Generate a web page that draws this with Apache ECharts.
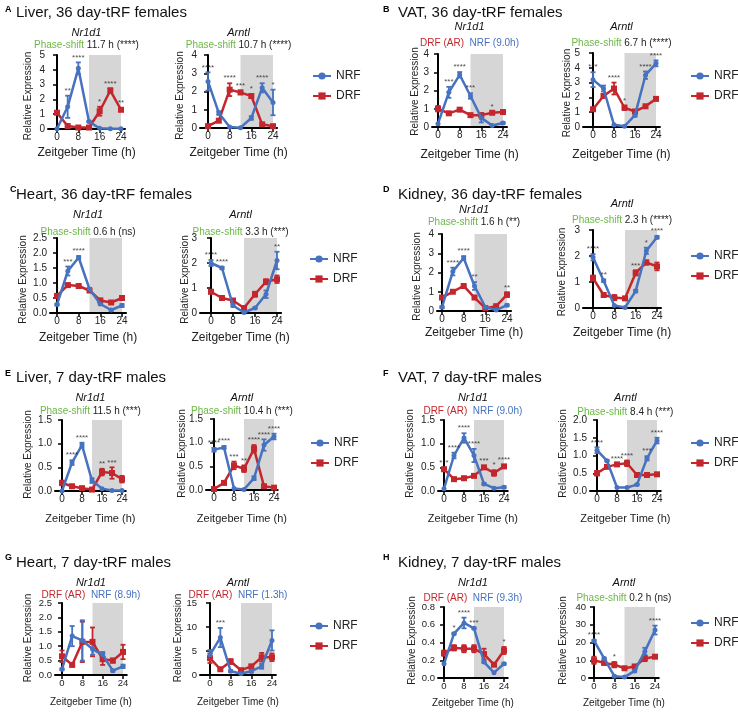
<!DOCTYPE html>
<html><head><meta charset="utf-8">
<script src="https://cdn.jsdelivr.net/npm/echarts@6/dist/echarts.min.js"></script>
<style>html,body{margin:0;padding:0;background:#fff}#c{width:738px;height:713px}</style>
</head><body><div id="c"></div>
<script>
const FONT = 'Liberation Sans, Arial, Helvetica, sans-serif';
const BLUE = '#4672bf', RED = '#c3262c', GREEN = '#6cb846', GRAY = '#d6d6d6', INK = '#1a1a1a';

const zt = [0, 4, 8, 12, 16, 20, 24];
const xTicks = [0, 8, 16, 24];
const panelLetters = ['A', 'B', 'C', 'D', 'E', 'F', 'G', 'H'];
const panelTitles = ['Liver, 36 day-tRF females', 'VAT, 36 day-tRF females', 'Heart, 36 day-tRF females', 'Kidney, 36 day-tRF females',
  'Liver, 7 day-tRF males', 'VAT, 7 day-tRF males', 'Heart, 7 day-tRF males', 'Kidney, 7 day-tRF males'];

// ---- A: Liver 36d females
const A1_NRF = [0.02, 1.5, 4.1, 0.5, 0.05, 0.02, 0.02], A1_NRF_E = [0, 0.75, 0.4, 0.05, 0, 0, 0];
const A1_DRF = [1.1, 0.2, 0.1, 0.1, 1.2, 2.6, 1.3], A1_DRF_E = [0.1, 0, 0, 0, 0.3, 0.15, 0.1];
const A1_STARS = ['*', '**', '****', '', '*', '****', '**'];
const A2_NRF = [2.55, 0.82, 0.05, 0.02, 0.55, 2.2, 1.4], A2_NRF_E = [0.5, 0.1, 0, 0, 0.1, 0.25, 0.7];
const A2_DRF = [0.1, 0.4, 2.1, 1.95, 1.75, 0.2, 0.1], A2_DRF_E = [0, 0, 0.35, 0.1, 0.1, 0, 0];
const A2_STARS = ['****', '', '****', '***', '*', '****', '*'];
// ---- B: VAT 36d females
const B1_NRF = [0.18, 1.9, 2.86, 1.7, 0.5, 0.08, 0.22], B1_NRF_E = [0, 0.3, 0.15, 0.15, 0.25, 0, 0.05];
const B1_DRF = [1.0, 0.75, 0.95, 0.65, 0.65, 0.78, 0.82], B1_DRF_E = [0.15, 0.05, 0.05, 0, 0, 0.05, 0.05];
const B1_STARS = ['*', '***', '****', '***', '', '*', ''];
const B2_NRF = [3.2, 2.6, 0.15, 0.05, 0.8, 3.5, 4.3], B2_NRF_E = [0.5, 0.2, 0, 0, 0.1, 0.25, 0.2];
const B2_DRF = [1.2, 2.1, 2.6, 1.3, 1.05, 1.4, 1.9], B2_DRF_E = [0, 0, 0.4, 0.15, 0, 0, 0.05];
const B2_STARS = ['***', '', '****', '*', '', '****', '****'];
// ---- C: Heart 36d females
const C1_NRF = [0.28, 1.4, 1.85, 0.8, 0.3, 0.1, 0.25], C1_NRF_E = [0.03, 0.15, 0.05, 0.03, 0.03, 0.03, 0.05];
const C1_DRF = [0.57, 0.93, 0.9, 0.75, 0.42, 0.35, 0.5], C1_DRF_E = [0.05, 0.05, 0.03, 0.03, 0.05, 0.03, 0.05];
const C1_STARS = ['*', '***', '****', '', '', '', ''];
const C2_NRF = [2.0, 1.8, 0.3, 0.02, 0.2, 0.75, 2.1], C2_NRF_E = [0.12, 0.05, 0.05, 0, 0.03, 0.15, 0.35];
const C2_DRF = [0.85, 0.6, 0.5, 0.2, 0.75, 1.25, 1.35], C2_DRF_E = [0.07, 0.03, 0.05, 0, 0.1, 0.1, 0.15];
const C2_STARS = ['****', '****', '', '', '', '', '**'];
// ---- D: Kidney 36d females
const D1_NRF = [0.2, 2.05, 2.75, 1.3, 0.2, 0.05, 0.3], D1_NRF_E = [0.05, 0.2, 0.1, 0.2, 0.05, 0, 0.05];
const D1_DRF = [0.7, 1.0, 1.3, 0.7, 0.15, 0.25, 0.85], D1_DRF_E = [0.05, 0.05, 0.05, 0.05, 0.05, 0.05, 0.12];
const D1_STARS = ['*', '****', '****', '**', '', '', '**'];
const D2_NRF = [1.95, 1.05, 0.1, 0.02, 0.65, 2.2, 2.72], D2_NRF_E = [0.12, 0.05, 0, 0, 0.05, 0.12, 0.05];
const D2_DRF = [1.15, 0.5, 0.4, 0.37, 1.35, 1.75, 1.6], D2_DRF_E = [0.1, 0.05, 0.1, 0.03, 0.1, 0.08, 0.15];
const D2_STARS = ['****', '**', '', '', '***', '*', '****'];
// ---- E: Liver 7d males
const E1_NRF = [0.0, 0.6, 0.97, 0.22, 0.05, 0.01, 0.01], E1_NRF_E = [0, 0.05, 0.05, 0.05, 0, 0, 0];
const E1_DRF = [0.17, 0.1, 0.06, 0.03, 0.4, 0.38, 0.25], E1_DRF_E = [0.05, 0.03, 0.02, 0.01, 0.07, 0.12, 0.07];
const E1_STARS = ['', '****', '****', '', '**', '***', ''];
const E2_NRF = [0.85, 0.9, 0.03, 0.01, 0.25, 0.95, 1.13], E2_NRF_E = [0.04, 0.03, 0, 0, 0.04, 0.12, 0.06];
const E2_DRF = [0.02, 0.15, 0.52, 0.45, 0.87, 0.08, 0.05], E2_DRF_E = [0, 0.02, 0.08, 0.07, 0.08, 0.02, 0.01];
const E2_STARS = ['****', '****', '***', '**', '****', '****', '****'];
// ---- F: VAT 7d males
const F1_NRF = [0.05, 0.75, 1.12, 0.75, 0.15, 0.06, 0.08], F1_NRF_E = [0, 0.06, 0.1, 0.14, 0.02, 0, 0.02];
const F1_DRF = [0.46, 0.25, 0.27, 0.32, 0.5, 0.38, 0.52], F1_DRF_E = [0.03, 0.03, 0.03, 0.03, 0.03, 0.06, 0.03];
const F1_STARS = ['***', '****', '****', '****', '***', '*', '****'];
const F2_NRF = [1.15, 0.85, 0.1, 0.1, 0.18, 0.92, 1.42], F2_NRF_E = [0.08, 0.02, 0, 0, 0.02, 0.06, 0.08];
const F2_DRF = [0.5, 0.68, 0.75, 0.78, 0.45, 0.45, 0.47], F2_DRF_E = [0.06, 0.03, 0.03, 0.08, 0.06, 0.03, 0.03];
const F2_STARS = ['****', '', '****', '****', '', '***', '****'];
// ---- G: Heart 7d males
const G1_NRF = [0.2, 1.35, 1.2, 0.9, 0.7, 0.15, 0.3], G1_NRF_E = [0.03, 0.35, 0.7, 0.2, 0.1, 0.03, 0.06];
const G1_DRF = [0.65, 0.35, 1.15, 1.15, 0.55, 0.5, 0.8], G1_DRF_E = [0.2, 0.03, 0.7, 0.5, 0.2, 0.07, 0.25];
const G1_STARS = ['', '', '', '', '', '', ''];
const G2_NRF = [4.2, 7.8, 0.8, 0.3, 0.8, 1.8, 7.2], G2_NRF_E = [1.0, 2.0, 0.2, 0.1, 0.3, 0.5, 2.1];
const G2_DRF = [3.5, 1.2, 2.8, 1.0, 1.8, 3.7, 3.7], G2_DRF_E = [1.0, 0.2, 0.5, 0.2, 0.3, 0.9, 0.8];
const G2_STARS = ['', '***', '', '', '', '', ''];
// ---- H: Kidney 7d males
const H1_NRF = [0.16, 0.5, 0.62, 0.56, 0.18, 0.06, 0.16], H1_NRF_E = [0, 0.01, 0.06, 0.01, 0.01, 0, 0.01];
const H1_DRF = [0.28, 0.34, 0.33, 0.33, 0.27, 0.15, 0.31], H1_DRF_E = [0.03, 0.03, 0.04, 0.04, 0.06, 0.01, 0.04];
const H1_STARS = ['', '*', '****', '***', '', '', '*'];
const H2_NRF = [21, 11, 1.0, 0.5, 4, 15, 27], H2_NRF_E = [0.5, 0.5, 0.3, 0.2, 0.5, 2, 2.5];
const H2_DRF = [10, 8.5, 7.5, 5.5, 6.5, 11, 12], H2_DRF_E = [2, 1, 1.5, 0.5, 0.5, 1.5, 0.5];
const H2_STARS = ['****', '', '*', '', '', '', '****'];

const PS = t => '{g|Phase-shift} {k|' + t + '}';
const AR = t => '{r|DRF (AR)}  {b|NRF (' + t + ')}';

const subplots = [
  {p:0, gene:'Nr1d1', sub:PS('11.7 h (****)'), ymax:5, step:1, dec:0, nrf:A1_NRF, nrfE:A1_NRF_E, drf:A1_DRF, drfE:A1_DRF_E, stars:A1_STARS},
  {p:0, gene:'Arntl', sub:PS('10.7 h (****)'), ymax:4, step:1, dec:0, nrf:A2_NRF, nrfE:A2_NRF_E, drf:A2_DRF, drfE:A2_DRF_E, stars:A2_STARS},
  {p:1, gene:'Nr1d1', sub:AR('9.0h'), ymax:4, step:1, dec:0, nrf:B1_NRF, nrfE:B1_NRF_E, drf:B1_DRF, drfE:B1_DRF_E, stars:B1_STARS},
  {p:1, gene:'Arntl', sub:PS('6.7 h (****)'), ymax:5, step:1, dec:0, nrf:B2_NRF, nrfE:B2_NRF_E, drf:B2_DRF, drfE:B2_DRF_E, stars:B2_STARS},
  {p:2, gene:'Nr1d1', sub:PS('0.6 h (ns)'), ymax:2.5, step:0.5, dec:1, nrf:C1_NRF, nrfE:C1_NRF_E, drf:C1_DRF, drfE:C1_DRF_E, stars:C1_STARS},
  {p:2, gene:'Arntl', sub:PS('3.3 h (***)'), ymax:3, step:1, dec:0, nrf:C2_NRF, nrfE:C2_NRF_E, drf:C2_DRF, drfE:C2_DRF_E, stars:C2_STARS},
  {p:3, gene:'Nr1d1', sub:PS('1.6 h (**)'), ymax:4, step:1, dec:0, nrf:D1_NRF, nrfE:D1_NRF_E, drf:D1_DRF, drfE:D1_DRF_E, stars:D1_STARS},
  {p:3, gene:'Arntl', sub:PS('2.3 h (****)'), ymax:3, step:1, dec:0, nrf:D2_NRF, nrfE:D2_NRF_E, drf:D2_DRF, drfE:D2_DRF_E, stars:D2_STARS},
  {p:4, gene:'Nr1d1', sub:PS('11.5 h (***)'), ymax:1.5, step:0.5, dec:1, nrf:E1_NRF, nrfE:E1_NRF_E, drf:E1_DRF, drfE:E1_DRF_E, stars:E1_STARS},
  {p:4, gene:'Arntl', sub:PS('10.4 h (***)'), ymax:1.5, step:0.5, dec:1, nrf:E2_NRF, nrfE:E2_NRF_E, drf:E2_DRF, drfE:E2_DRF_E, stars:E2_STARS},
  {p:5, gene:'Nr1d1', sub:AR('9.0h'), ymax:1.5, step:0.5, dec:1, nrf:F1_NRF, nrfE:F1_NRF_E, drf:F1_DRF, drfE:F1_DRF_E, stars:F1_STARS},
  {p:5, gene:'Arntl', sub:PS('8.4 h (***)'), ymax:2, step:0.5, dec:1, nrf:F2_NRF, nrfE:F2_NRF_E, drf:F2_DRF, drfE:F2_DRF_E, stars:F2_STARS},
  {p:6, gene:'Nr1d1', sub:AR('8.9h'), ymax:2.5, step:0.5, dec:1, nrf:G1_NRF, nrfE:G1_NRF_E, drf:G1_DRF, drfE:G1_DRF_E, stars:G1_STARS},
  {p:6, gene:'Arntl', sub:AR('1.3h'), ymax:15, step:5, dec:0, nrf:G2_NRF, nrfE:G2_NRF_E, drf:G2_DRF, drfE:G2_DRF_E, stars:G2_STARS},
  {p:7, gene:'Nr1d1', sub:AR('9.3h'), ymax:0.8, step:0.2, dec:1, nrf:H1_NRF, nrfE:H1_NRF_E, drf:H1_DRF, drfE:H1_DRF_E, stars:H1_STARS},
  {p:7, gene:'Arntl', sub:PS('0.2 h (ns)'), ymax:40, step:10, dec:0, nrf:H2_NRF, nrfE:H2_NRF_E, drf:H2_DRF, drfE:H2_DRF_E, stars:H2_STARS}
];

// ---- layout (pixels): letter xy, title xy, legend xy
const panelLayout = [
  [5, 5, 16, 13, 307, 72], [383, 5, 398, 13, 685, 72],
  [10, 185, 16, 195, 304, 255], [383, 185, 398, 195, 685, 252],
  [5, 369, 16, 378, 305, 439], [383, 369, 398, 378, 685, 439],
  [5, 553, 16, 563, 304, 622], [383, 553, 398, 563, 685, 619]
];
// axisLineX, x(ZT0), x(ZT24), y0, yTop, yNameX, geneY, subY, xNameY, xNameFont, yNameDy
const subLayout = [
  [48, 57, 121, 129, 55, 28, 33, 45, 153, 12, 4], [200, 208, 273, 128, 55, 180, 33, 45, 153, 12, 4],
  [432, 438, 503, 127, 54, 415, 27, 43, 155, 12, 1], [583, 593, 656, 127, 53, 567, 27, 43, 155, 12, 3],
  [50, 57, 122, 313, 238, 23, 215, 232, 338, 12, 4], [200, 211, 277, 313, 238, 185, 215, 232, 338, 12, 4],
  [437, 442, 507, 311, 234, 417, 210, 222, 333, 12, 4], [583, 593, 657, 308, 230, 562, 204, 220, 333, 12, 3],
  [55, 62, 122, 491, 420, 28, 398, 411, 519, 11, -1], [206, 214, 274, 490, 419, 182, 398, 411, 519, 11, -1],
  [438, 444, 504, 491, 420, 410, 398, 411, 519, 11, -2], [590, 597, 657, 491, 420, 563, 398, 412, 519, 11, -2],
  [55, 62, 123, 675, 603, 28, 583, 595, 702, 10, -1], [200, 210, 272, 675, 603, 178, 583, 595, 702, 10, -1],
  [438, 444, 504, 678, 607, 412, 583, 598, 703, 10, -2], [589, 594, 655, 678, 607, 563, 583, 598, 703, 10, -2]
];

const grid = [], xAxis = [], yAxis = [], series = [], graphic = [], legend = [];

panelLayout.forEach((pl, k) => {
  graphic.push({type:'text', x:pl[0], y:pl[1], style:{text:panelLetters[k], fontFamily:FONT, fontSize:9, fontWeight:'bold', fill:'#000'}});
  graphic.push({type:'text', x:pl[2], y:pl[3], style:{text:panelTitles[k], fontFamily:FONT, fontSize:15, fill:'#111', verticalAlign:'middle'}});
  legend.push({left:pl[4], top:pl[5] - 7, orient:'vertical', itemWidth:18, itemHeight:9, itemGap:8,
    data:['NRF', 'DRF'], textStyle:{fontFamily:FONT, fontSize:12, color:'#222'}, selectedMode:false});
});

function errSeries(gi, vals, errs, color) {
  const data = [];
  vals.forEach((v, i) => { if (errs[i] > 0) data.push([zt[i], Math.max(0, v - errs[i]), v + errs[i]]); });
  return {type:'custom', xAxisIndex:gi, yAxisIndex:gi, data, z:3, silent:true, encode:{x:0, y:[1, 2]},
    renderItem(params, api) {
      const x = api.value(0);
      const lo = api.coord([x, api.value(1)]), hi = api.coord([x, api.value(2)]);
      const w = 2.5, st = {stroke:color, lineWidth:1.8};
      return {type:'group', children:[
        {type:'line', shape:{x1:lo[0], y1:lo[1], x2:hi[0], y2:hi[1]}, style:st},
        {type:'line', shape:{x1:lo[0] - w, y1:lo[1], x2:lo[0] + w, y2:lo[1]}, style:st},
        {type:'line', shape:{x1:hi[0] - w, y1:hi[1], x2:hi[0] + w, y2:hi[1]}, style:st}
      ]};
    }};
}

subplots.forEach((sp, i) => {
  const [L, x0, x24, y0, yt, yn, gy, sy, xny, xnf, ydy] = subLayout[i];
  const s = (x24 - x0) / 24;
  const xmin = -(x0 - L) / s, xmax = 25.5;
  const right = x24 + 1.5 * s;
  const tickFont = i >= 12 ? 9.5 : 10;
  grid.push({left:L, top:yt, width:right - L, height:y0 - yt});
  xAxis.push({gridIndex:i, type:'value', min:xmin, max:xmax,
    axisLine:{show:true, onZero:false, lineStyle:{color:'#000', width:2}},
    axisTick:{show:true, customValues:xTicks, length:4, lineStyle:{color:'#000', width:1.5}},
    axisLabel:{customValues:xTicks, fontFamily:FONT, fontSize:tickFont, color:'#222', margin:3},
    splitLine:{show:false},
    name:'Zeitgeber Time (h)', nameLocation:'middle', nameGap:xny - y0 - xnf / 2,
    nameTextStyle:{fontFamily:FONT, fontSize:xnf, color:'#222'}});
  yAxis.push({gridIndex:i, type:'value', min:0, max:sp.ymax, interval:sp.step,
    axisLine:{show:true, lineStyle:{color:'#000', width:2}},
    axisTick:{show:true, length:4, lineStyle:{color:'#000', width:1.5}},
    axisLabel:{formatter:v => v.toFixed(sp.dec), fontFamily:FONT, fontSize:tickFont, color:'#222', margin:3},
    splitLine:{show:false}});
  graphic.push({type:'text', x:yn, y:(y0 + yt) / 2 + ydy, rotation:Math.PI / 2,
    style:{text:'Relative Expression', fontFamily:FONT, fontSize:10, fill:'#222', align:'center', verticalAlign:'middle'}});
  // dark-phase shading
  series.push({type:'custom', xAxisIndex:i, yAxisIndex:i, data:[[12, 24]], z:0, silent:true, encode:{x:[0, 1]},
    renderItem(params, api) {
      const a = api.coord([api.value(0), sp.ymax]), b = api.coord([api.value(1), 0]);
      return {type:'rect', shape:{x:a[0], y:a[1], width:b[0] - a[0], height:b[1] - a[1]}, style:{fill:GRAY}};
    }});
  series.push(errSeries(i, sp.drf, sp.drfE, RED));
  series.push(errSeries(i, sp.nrf, sp.nrfE, BLUE));
  series.push({type:'line', name:'NRF', xAxisIndex:i, yAxisIndex:i, data:zt.map((x, k) => [x, sp.nrf[k]]),
    symbol:'circle', symbolSize:5, z:5, color:BLUE, lineStyle:{width:2.5, color:BLUE}, itemStyle:{color:BLUE}, silent:true});
  series.push({type:'line', name:'DRF', xAxisIndex:i, yAxisIndex:i, data:zt.map((x, k) => [x, sp.drf[k]]),
    symbol:'rect', symbolSize:6, z:4, color:RED, lineStyle:{width:2.5, color:RED}, itemStyle:{color:RED}, silent:true});
  const starData = [];
  sp.stars.forEach((st, k) => {
    if (st) starData.push({value:[zt[k], Math.max(sp.nrf[k] + sp.nrfE[k], sp.drf[k] + sp.drfE[k])], s:st});
  });
  series.push({type:'scatter', xAxisIndex:i, yAxisIndex:i, data:starData, symbolSize:0, z:6, silent:true,
    label:{show:true, position:'top', distance:1, formatter:p => p.data.s, fontFamily:FONT, fontSize:8, color:INK}});
  const cx = L + (right - L) / 2;
  graphic.push({type:'text', x:cx, y:gy, style:{text:sp.gene, fontFamily:FONT, fontSize:11, fontStyle:'italic', fill:'#111', align:'center', verticalAlign:'middle'}});
  graphic.push({type:'text', x:cx, y:sy, style:{text:sp.sub, align:'center', verticalAlign:'middle', fontFamily:FONT, fontSize:10,
    rich:{g:{fill:GREEN, fontFamily:FONT, fontSize:10}, k:{fill:'#222', fontFamily:FONT, fontSize:10},
          r:{fill:RED, fontFamily:FONT, fontSize:10}, b:{fill:BLUE, fontFamily:FONT, fontSize:10}}}});
});

const chart = echarts.init(document.getElementById('c'), null, {renderer:'canvas'});
chart.setOption({animation:false, backgroundColor:'#fff', grid, xAxis, yAxis, series, graphic, legend});
</script></body></html>
